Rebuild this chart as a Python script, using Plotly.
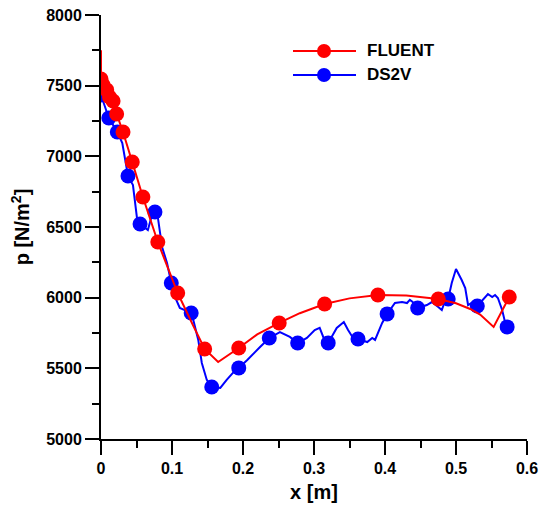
import plotly.graph_objects as go

# FLUENT (CFD) continuous curve
fluent_line_x = [0.000, 0.000, 0.003, 0.008, 0.012, 0.017, 0.022, 0.031, 0.044, 0.059, 0.080,
                 0.108, 0.130, 0.146, 0.165, 0.194, 0.220, 0.251, 0.280, 0.315, 0.350, 0.390,
                 0.430, 0.475, 0.500, 0.520, 0.534, 0.553, 0.575]
fluent_line_y = [7750, 7550, 7505, 7470, 7425, 7390, 7300, 7172, 6960, 6712, 6394,
                 6033, 5800, 5637, 5545, 5644, 5740, 5821, 5890, 5955, 5995, 6019,
                 6015, 5991, 5960, 5920, 5880, 5793, 6005]
# FLUENT markers
fluent_mk_x = [0.000, 0.003, 0.008, 0.012, 0.017, 0.022, 0.031, 0.044, 0.059, 0.080,
               0.108, 0.146, 0.194, 0.251, 0.315, 0.390, 0.475, 0.575]
fluent_mk_y = [7547, 7505, 7470, 7420, 7392, 7300, 7172, 6960, 6712, 6394,
               6033, 5637, 5644, 5821, 5955, 6019, 5991, 6005]

# DS2V (DSMC) noisy curve
ds2v_line_x = [0.000, 0.011, 0.023, 0.030, 0.038, 0.045, 0.051, 0.055, 0.066, 0.073, 0.076,
               0.080, 0.086, 0.093, 0.099, 0.106, 0.111, 0.123, 0.127, 0.130, 0.137, 0.142,
               0.149, 0.156, 0.168, 0.177, 0.192, 0.194, 0.206, 0.224, 0.237, 0.252, 0.266,
               0.277, 0.290, 0.301, 0.308, 0.313, 0.320, 0.332, 0.342, 0.348, 0.355, 0.362,
               0.375, 0.382, 0.386, 0.396, 0.403, 0.414, 0.424, 0.431, 0.435, 0.439, 0.446,
               0.459, 0.466, 0.475, 0.480, 0.485, 0.489, 0.494, 0.500, 0.508, 0.513, 0.517,
               0.524, 0.530, 0.538, 0.545, 0.551, 0.555, 0.559, 0.565, 0.569, 0.572]
ds2v_line_y = [7434, 7271, 7172, 7094, 6861, 6797, 6550, 6521, 6479, 6606, 6606,
               6571, 6359, 6245, 6104, 5984, 5927, 5899, 5892, 5842, 5701, 5538,
               5418, 5368, 5361, 5418, 5503, 5503, 5559, 5651, 5715, 5757, 5722,
               5679, 5715, 5771, 5786, 5722, 5679, 5786, 5828, 5771, 5715, 5708,
               5686, 5715, 5701, 5821, 5885, 5962, 5969, 5962, 5984, 5969, 5927,
               5948, 5969, 5934, 5913, 5984, 5991, 6104, 6203, 6125, 6068, 5948,
               5969, 5941, 5984, 6026, 6005, 6019, 5998, 5913, 5828, 5793]
# DS2V markers
ds2v_mk_x = [0.000, 0.011, 0.023, 0.038, 0.055, 0.076, 0.099, 0.127, 0.156, 0.194,
             0.237, 0.277, 0.320, 0.362, 0.403, 0.446, 0.489, 0.530, 0.572]
ds2v_mk_y = [7434, 7271, 7172, 6861, 6521, 6606, 6104, 5892, 5368, 5503,
             5715, 5679, 5680, 5708, 5885, 5927, 5991, 5941, 5793]

x_ticks = [0, 0.1, 0.2, 0.3, 0.4, 0.5, 0.6]
x_ticklabels = ["0", "0.1", "0.2", "0.3", "0.4", "0.5", "0.6"]
y_ticks = [5000, 5500, 6000, 6500, 7000, 7500, 8000]
y_ticklabels = ["5000", "5500", "6000", "6500", "7000", "7500", "8000"]

series_names = ["FLUENT", "DS2V"]
RED = "#ff0000"
BLUE = "#0000ff"
FONT = "Liberation Sans, Arial, sans-serif"

fig = go.Figure()
# blue first so red sits on top
fig.add_trace(go.Scatter(x=ds2v_line_x, y=ds2v_line_y, mode="lines",
                         line=dict(color=BLUE, width=2), showlegend=False, hoverinfo="skip"))
fig.add_trace(go.Scatter(x=ds2v_mk_x, y=ds2v_mk_y, mode="markers", name=series_names[1],
                         marker=dict(color=BLUE, size=15), showlegend=False))
fig.add_trace(go.Scatter(x=fluent_line_x, y=fluent_line_y, mode="lines",
                         line=dict(color=RED, width=2), showlegend=False, hoverinfo="skip"))
fig.add_trace(go.Scatter(x=fluent_mk_x, y=fluent_mk_y, mode="markers", name=series_names[0],
                         marker=dict(color=RED, size=15), showlegend=False))

# manual legend (paper coordinates; plot area spans 426 x 424 px)
def px2paper_x(px):
    return (px - 101) / 426.0

def px2paper_y(py):
    return (439 - py) / 424.0

for i, (name, col) in enumerate(zip(series_names, [RED, BLUE])):
    py = 51 + 24 * i
    fig.add_shape(type="line", xref="paper", yref="paper",
                  x0=px2paper_x(293), x1=px2paper_x(356), y0=px2paper_y(py), y1=px2paper_y(py),
                  line=dict(color=col, width=2))
    fig.add_shape(type="circle", xref="paper", yref="paper",
                  x0=px2paper_x(317), x1=px2paper_x(331), y0=px2paper_y(py + 7), y1=px2paper_y(py - 7),
                  fillcolor=col, line=dict(color=col, width=0))
    fig.add_annotation(xref="paper", yref="paper", x=px2paper_x(365), y=px2paper_y(py),
                       xanchor="left", yanchor="middle", showarrow=False, text="<b>%s</b>" % name,
                       font=dict(family=FONT, size=17, color="black"))

axis_common = dict(showline=True, linecolor="black", linewidth=2, ticks="outside",
                   tickcolor="black", tickwidth=2, ticklen=14, showgrid=False, zeroline=False,
                   tickfont=dict(family=FONT, size=16, color="black", weight="bold"),
                   ticklabeloverflow="allow", mirror=False, automargin=False)

# page body has an 8px margin, so the figure is drawn 8px in from the window corner
fig.update_layout(
    width=541, height=500,
    margin=dict(l=93, r=22, t=7, b=69),
    paper_bgcolor="white", plot_bgcolor="white",
    showlegend=False,
    xaxis=dict(range=[0, 0.6], tickvals=x_ticks, ticktext=x_ticklabels,
               minor=dict(dtick=0.05, tick0=0, ticks="outside", ticklen=7, tickwidth=2, tickcolor="black"),
               title=dict(text="<b>x [m]</b>", font=dict(family=FONT, size=20, color="black"), standoff=9),
               **axis_common),
    yaxis=dict(range=[5000, 8000], tickvals=y_ticks, ticktext=y_ticklabels,
               minor=dict(dtick=250, tick0=5000, ticks="outside", ticklen=7, tickwidth=2, tickcolor="black"),
               title=dict(text="<b>p [N/m<sup>2</sup>]</b>", font=dict(family=FONT, size=20, color="black"), standoff=13),
               **axis_common),
)

fig.write_html("out.html")
